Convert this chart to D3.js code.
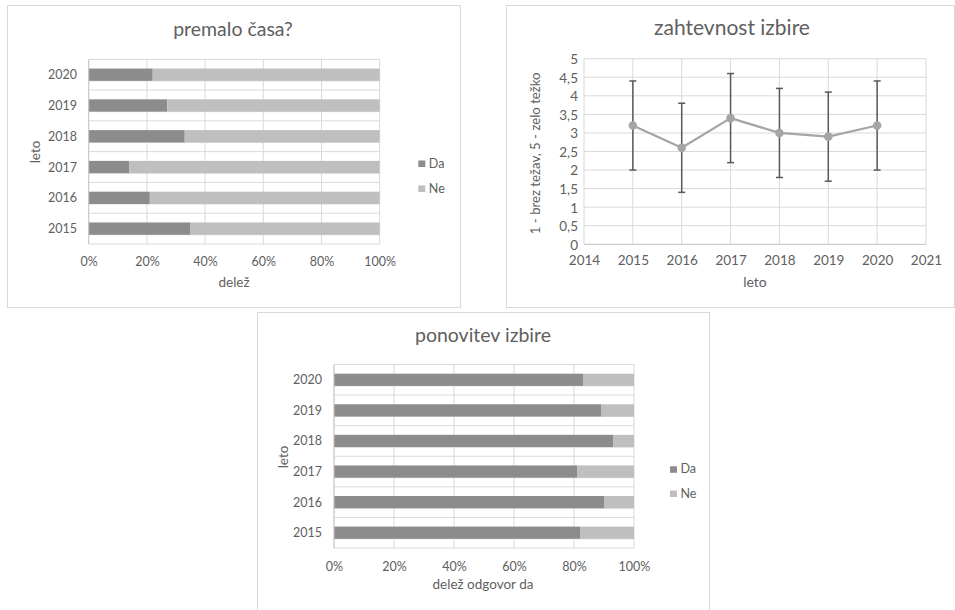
<!DOCTYPE html>
<html>
<head>
<meta charset="utf-8">
<script src="https://cdn.jsdelivr.net/npm/d3@7"></script>
<style>
  html, body { margin: 0; padding: 0; background: #fff; }
  svg { display: block; font-family: Lato, "Open Sans", sans-serif; }
</style>
</head>
<body>
<svg id="c" width="955" height="610"></svg>
<script>
// ---------- data ----------
const years = [2015, 2016, 2017, 2018, 2019, 2020];
const seriesNames = ["Da", "Ne"];

// premalo časa? (percent)
const premaloDa = [35, 21, 14, 33, 27, 22];
const premaloNe = [65, 79, 86, 67, 73, 78];

// ponovitev izbire (percent)
const ponovitevDa = [82, 90, 81, 93, 89, 83];
const ponovitevNe = [18, 10, 19, 7, 11, 17];

// zahtevnost izbire (mean and error)
const zahtevnostMean = [3.2, 2.6, 3.4, 3.0, 2.9, 3.2];
const zahtevnostErr  = [1.2, 1.2, 1.2, 1.2, 1.2, 1.2];

const pctTicks = [0, 20, 40, 60, 80, 100];
const yearTicks = [2014, 2015, 2016, 2017, 2018, 2019, 2020, 2021];
const scoreTicks = [0, 0.5, 1, 1.5, 2, 2.5, 3, 3.5, 4, 4.5, 5];

// ---------- styles ----------
const TEXT = "#606060";
const GRID = "#d9d9d9";
const FRAME = "#d9d9d9";
const DA_COL = "#8c8c8c";
const NE_COL = "#bfbfbf";
const LINE_COL = "#a5a5a5";
const ERR_COL = "#595959";
const TICK_FS = 12.5;
const AXT_FS = 13.5;

const svg = d3.select("#c");
svg.append("rect").attr("width", 955).attr("height", 610).attr("fill", "#fff");

function styleText(sel, fs) {
  sel.attr("fill", TEXT).style("font-size", fs + "px").style("font-family", "Lato, 'Open Sans', sans-serif");
}

function barChart(cfg) {
  const g = svg.append("g");
  g.append("rect")
    .attr("x", cfg.frame[0] + 0.5).attr("y", cfg.frame[1] + 0.5)
    .attr("width", cfg.frame[2]).attr("height", cfg.frame[3])
    .attr("fill", "#fff").attr("stroke", FRAME);

  const x = d3.scaleLinear().domain([0, 100]).range([cfg.l, cfg.r]);
  const y = d3.scaleBand().domain(years.slice().reverse()).range([cfg.t, cfg.b]).padding(0);
  const bw = y.bandwidth();
  const barH = bw * 0.4;
  const barOff = bw * 0.3;

  // vertical gridlines
  g.append("g").selectAll("line").data(pctTicks).join("line")
    .attr("x1", d => x(d)).attr("x2", d => x(d))
    .attr("y1", cfg.t).attr("y2", cfg.b)
    .attr("stroke", GRID).attr("stroke-width", 1);
  // horizontal category lines (boundaries and bar bottom edges)
  const hl = [];
  years.forEach(yr => { hl.push(y(yr)); hl.push(y(yr) + barOff + barH); });
  hl.push(cfg.b);
  g.append("g").selectAll("line").data(hl).join("line")
    .attr("x1", cfg.l).attr("x2", cfg.r)
    .attr("y1", d => d).attr("y2", d => d)
    .attr("stroke", GRID).attr("stroke-width", 1);

  // bars
  const rows = years.map((yr, i) => ({ yr, da: cfg.da[i], ne: cfg.ne[i] }));
  g.append("g").selectAll("rect.da").data(rows).join("rect")
    .attr("x", x(0)).attr("y", d => y(d.yr) + barOff)
    .attr("width", d => x(d.da) - x(0)).attr("height", barH)
    .attr("fill", DA_COL);
  g.append("g").selectAll("rect.ne").data(rows).join("rect")
    .attr("x", d => x(d.da)).attr("y", d => y(d.yr) + barOff)
    .attr("width", d => x(d.da + d.ne) - x(d.da)).attr("height", barH)
    .attr("fill", NE_COL);

  // left axis line
  g.append("line").attr("x1", cfg.l).attr("x2", cfg.l).attr("y1", cfg.t).attr("y2", cfg.b)
    .attr("stroke", "#c8c8c8");

  // x axis labels
  const xa = g.append("g").attr("transform", `translate(0,${cfg.b})`)
    .call(d3.axisBottom(x).tickValues(pctTicks).tickFormat(d => d + "%").tickSize(0));
  xa.select(".domain").remove();
  xa.selectAll("text").attr("y", cfg.xTickBase - cfg.b).attr("dy", null).call(styleText, TICK_FS);

  // y axis labels
  const ya = g.append("g").attr("transform", `translate(${cfg.yLabelRight},0)`)
    .call(d3.axisLeft(y).tickSize(0).tickPadding(0));
  ya.select(".domain").remove();
  ya.selectAll("text").attr("x", 0).attr("dy", "0.36em").call(styleText, TICK_FS);

  // title
  g.append("text").attr("x", cfg.titleX).attr("y", cfg.titleY).attr("text-anchor", "middle")
    .text(cfg.title).call(styleText, 19.5);
  // axis titles
  g.append("text").attr("x", cfg.xTitleX).attr("y", cfg.xTitleY).attr("text-anchor", "middle")
    .text(cfg.xTitle).call(styleText, AXT_FS);
  g.append("text").attr("transform", `translate(${cfg.yTitleX},${cfg.yTitleY}) rotate(-90)`)
    .attr("text-anchor", "middle").text("leto").call(styleText, AXT_FS);

  // legend
  const lg = g.append("g").selectAll("g").data(seriesNames).join("g")
    .attr("transform", (d, i) => `translate(${cfg.legX},${cfg.legY[i]})`);
  lg.append("rect").attr("x", 0).attr("y", -7).attr("width", 7).attr("height", 6.5)
    .attr("fill", (d, i) => i === 0 ? DA_COL : NE_COL);
  lg.append("text").attr("x", 10.5).attr("y", 0).text(d => d).call(styleText, TICK_FS);
}

barChart({
  frame: [7, 5, 453, 302],
  l: 88.7, r: 379.7, t: 59.3, b: 244,
  da: premaloDa, ne: premaloNe,
  title: "premalo časa?", titleX: 233, titleY: 36,
  xTitle: "delež", xTitleX: 234, xTitleY: 287,
  yTitleX: 40, yTitleY: 152,
  yLabelRight: 77, xTickBase: 265.5,
  legX: 418.3, legY: [167.5, 192.5]
});

barChart({
  frame: [257, 312, 452, 302],
  l: 334, r: 634, t: 364.5, b: 548,
  da: ponovitevDa, ne: ponovitevNe,
  title: "ponovitev izbire", titleX: 483, titleY: 342,
  xTitle: "delež odgovor da", xTitleX: 483, xTitleY: 589,
  yTitleX: 288, yTitleY: 457,
  yLabelRight: 322, xTickBase: 570.5,
  legX: 670, legY: [473.3, 497.5]
});

// ---------- line chart with error bars ----------
(function () {
  const g = svg.append("g");
  g.append("rect").attr("x", 506.5).attr("y", 5.5).attr("width", 448).attr("height", 302)
    .attr("fill", "#fff").attr("stroke", FRAME);
  const L = 584, R = 926, T = 58.7, B = 244.3;
  const x = d3.scaleLinear().domain([2014, 2021]).range([L, R]);
  const y = d3.scaleLinear().domain([0, 5]).range([B, T]);

  g.append("g").selectAll("line").data(scoreTicks).join("line")
    .attr("x1", L).attr("x2", R).attr("y1", d => y(d)).attr("y2", d => y(d))
    .attr("stroke", d => d === 0 ? "#bfbfbf" : GRID);
  g.append("g").selectAll("line").data(yearTicks).join("line")
    .attr("x1", d => x(d)).attr("x2", d => x(d)).attr("y1", T).attr("y2", B)
    .attr("stroke", GRID);

  const pts = years.map((yr, i) => ({ yr, m: zahtevnostMean[i], e: zahtevnostErr[i] }));
  // error bars
  const eb = g.append("g").attr("stroke", ERR_COL).attr("stroke-width", 1.5);
  eb.selectAll("line.v").data(pts).join("line")
    .attr("x1", d => x(d.yr)).attr("x2", d => x(d.yr))
    .attr("y1", d => y(d.m - d.e)).attr("y2", d => y(d.m + d.e));
  eb.selectAll("line.top").data(pts).join("line")
    .attr("x1", d => x(d.yr) - 3.5).attr("x2", d => x(d.yr) + 3.5)
    .attr("y1", d => y(d.m + d.e)).attr("y2", d => y(d.m + d.e));
  eb.selectAll("line.bot").data(pts).join("line")
    .attr("x1", d => x(d.yr) - 3.5).attr("x2", d => x(d.yr) + 3.5)
    .attr("y1", d => y(d.m - d.e)).attr("y2", d => y(d.m - d.e));

  // line
  g.append("path").datum(pts)
    .attr("d", d3.line().x(d => x(d.yr)).y(d => y(d.m)))
    .attr("fill", "none").attr("stroke", LINE_COL).attr("stroke-width", 2.25)
    .attr("stroke-linejoin", "round");
  g.append("g").selectAll("circle").data(pts).join("circle")
    .attr("cx", d => x(d.yr)).attr("cy", d => y(d.m)).attr("r", 4.3)
    .attr("fill", LINE_COL);

  const fmt = d => String(d).replace(".", ",");
  const xa = g.append("g").attr("transform", `translate(0,${B})`)
    .call(d3.axisBottom(x).tickValues(yearTicks).tickFormat(d => String(d)).tickSize(0));
  xa.select(".domain").remove();
  xa.selectAll("text").attr("y", 265.5 - B).attr("dy", null).call(styleText, 13.5);
  const ya = g.append("g").attr("transform", `translate(578,0)`)
    .call(d3.axisLeft(y).tickValues(scoreTicks).tickFormat(fmt).tickSize(0).tickPadding(0));
  ya.select(".domain").remove();
  ya.selectAll("text").attr("x", 0).attr("dy", "0.36em").call(styleText, 13.5);

  g.append("text").attr("x", 732).attr("y", 35).attr("text-anchor", "middle")
    .text("zahtevnost izbire").call(styleText, 21);
  g.append("text").attr("x", 755).attr("y", 286.5).attr("text-anchor", "middle")
    .text("leto").call(styleText, 14);
  g.append("text").attr("transform", `translate(540,153.3) rotate(-90)`)
    .attr("text-anchor", "middle").text("1 - brez težav, 5 - zelo težko").call(styleText, 13.2);
})();
</script>
</body>
</html>
